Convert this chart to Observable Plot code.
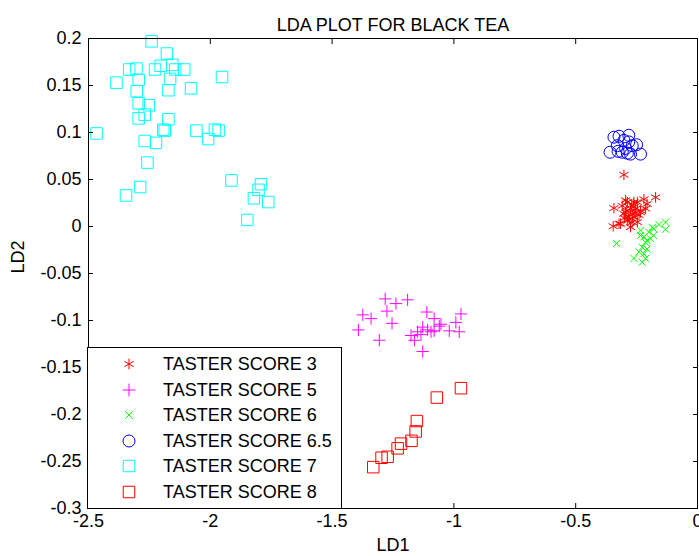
<!DOCTYPE html>
<html>
<head>
<meta charset="utf-8">
<script src="https://cdn.jsdelivr.net/npm/d3@7"></script>
<script src="https://cdn.jsdelivr.net/npm/@observablehq/plot@0.6"></script>
<style>
  html, body { margin: 0; padding: 0; background: #fff; }
  #wrap { position: relative; width: 699px; height: 556px; font-family: "Liberation Sans", Arial, sans-serif; }
  #legend { position: absolute; left: 87px; top: 347px; width: 253px; height: 160px; border: 1px solid #000; background: #fff; box-sizing: content-box; }
  .row { position: absolute; left: 0; height: 26px; display: flex; align-items: center; }
  .row svg { position: absolute; left: 29px; top: 1px; }
  .row span { position: absolute; left: 75px; font-size: 18px; white-space: nowrap; line-height: 26px; color: #000; }
</style>
</head>
<body>
<div id="wrap"></div>
<script>
// ---- data ----
const seriesNames = ["TASTER SCORE 3", "TASTER SCORE 5", "TASTER SCORE 6", "TASTER SCORE 6.5", "TASTER SCORE 7", "TASTER SCORE 8"];
const seriesColors = ["#ff0000", "#ff00ff", "#00ff00", "#0000ff", "#00ffff", "#ff0000"];
const seriesSymbols = ["asterisk", "plus", "times", "circle", "square", "square"];
const seriesR = [5, 4, 3.3, 6, 6.5, 6.5];
const legendR = [5, 4.2, 3.5, 6, 6.5, 6.5];

const score3X = [-0.302, -0.172, -0.343, -0.346, -0.295, -0.220, -0.207, -0.261, -0.275, -0.234, -0.302, -0.261, -0.288, -0.316, -0.247, -0.275, -0.288, -0.247, -0.268, -0.282, -0.309, -0.254, -0.234, -0.213, -0.295, -0.268, -0.322, -0.261, -0.240, -0.280, -0.290, -0.256, -0.270, -0.300];
const score3Y = [0.055, 0.031, 0.0195, 0.0003, 0.028, 0.029, 0.024, 0.026, 0.019, 0.017, 0.0135, 0.010, 0.006, 0.003, 0.0046, -0.0007, 0.026, 0.026, 0.0135, 0.010, 0.022, 0.019, 0.015, 0.019, 0.015, 0.0046, 0.003, 0.021, 0.012, 0.008, 0.017, 0.014, 0.023, 0.009];

const score5X = [-1.282, -1.238, -1.190, -1.374, -1.340, -1.275, -1.254, -1.392, -1.306, -1.111, -1.081, -0.971, -0.992, -1.053, -1.128, -1.108, -1.094, -1.149, -1.176, -1.162, -1.019, -0.978, -1.128, -1.081, -1.060, -1.135];
const score5Y = [-0.077, -0.082, -0.078, -0.094, -0.098, -0.090, -0.103, -0.110, -0.121, -0.091, -0.098, -0.093, -0.102, -0.104, -0.107, -0.110, -0.112, -0.112, -0.116, -0.121, -0.111, -0.112, -0.133, -0.111, -0.106, -0.115];

const score6X = [-0.332, -0.131, -0.131, -0.158, -0.180, -0.234, -0.200, -0.193, -0.213, -0.227, -0.207, -0.220, -0.261, -0.213, -0.227, -0.234, -0.180, -0.186, -0.207, -0.220, -0.240];
const score6Y = [-0.018, 0.0046, -0.003, 0.002, -0.0025, -0.004, -0.006, -0.013, -0.017, -0.022, -0.024, -0.029, -0.034, -0.034, -0.038, -0.0096, -0.0096, -0.001, -0.015, -0.011, -0.027];

const score65X = [-0.343, -0.322, -0.282, -0.302, -0.329, -0.268, -0.250, -0.359, -0.326, -0.295, -0.288, -0.234, -0.275, -0.309, -0.282];
const score65Y = [0.095, 0.096, 0.097, 0.0915, 0.086, 0.086, 0.087, 0.079, 0.080, 0.083, 0.078, 0.077, 0.077, 0.079, 0.090];

const score7X = [-2.241, -2.178, -2.333, -2.303, -2.227, -2.204, -2.156, -2.144, -2.107, -2.165, -2.385, -2.294, -2.302, -2.172, -2.079, -1.952, -2.294, -2.253, -2.269, -2.294, -2.172, -2.467, -2.193, -2.187, -2.057, -1.981, -1.966, -2.009, -2.269, -2.223, -2.258, -1.913, -2.288, -2.346, -1.792, -1.802, -1.821, -1.762, -1.848];
const score7Y = [0.197, 0.184, 0.167, 0.168, 0.167, 0.171, 0.172, 0.167, 0.167, 0.157, 0.153, 0.156, 0.144, 0.145, 0.147, 0.159, 0.131, 0.129, 0.119, 0.115, 0.114, 0.099, 0.103, 0.102, 0.102, 0.103, 0.102, 0.093, 0.091, 0.089, 0.068, 0.049, 0.042, 0.033, 0.045, 0.039, 0.030, 0.026, 0.007];

const score8X = [-0.971, -1.070, -1.152, -1.157, -1.174, -1.217, -1.231, -1.272, -1.297, -1.331];
const score8Y = [-0.172, -0.182, -0.207, -0.218, -0.228, -0.231, -0.236, -0.245, -0.246, -0.256];

const xTicks = [-2.5, -2, -1.5, -1, -0.5, 0];
const yTicks = [-0.3, -0.25, -0.2, -0.15, -0.1, -0.05, 0, 0.05, 0.1, 0.15, 0.2];
const titleText = "LDA PLOT FOR BLACK TEA";
const xLabel = "LD1";
const yLabel = "LD2";

// ---- build tidy table ----
const seriesX = [score3X, score5X, score6X, score65X, score7X, score8X];
const seriesY = [score3Y, score5Y, score6Y, score65Y, score7Y, score8Y];
const points = [];
seriesX.forEach((xs, i) => xs.forEach((x, j) => points.push({x, y: seriesY[i][j], s: i})));

const fmt = d => String(d);
const font = "Liberation Sans, Arial, sans-serif";

const chart = Plot.plot({
  width: 699,
  height: 556,
  marginLeft: 88,
  marginRight: 2,
  marginTop: 38,
  marginBottom: 48,
  style: {fontFamily: font, fontSize: "18px", background: "#fff", color: "#000"},
  x: {domain: [-2.5, 0], ticks: xTicks, tickFormat: fmt, label: null},
  y: {domain: [-0.3, 0.2], ticks: yTicks, tickFormat: fmt, label: null},
  marks: [
    ...seriesNames.map((name, i) => Plot.dot(points.filter(p => p.s === i), {
      x: "x", y: "y", symbol: () => seriesSymbols[i], r: seriesR[i],
      stroke: seriesColors[i], fill: "none", strokeWidth: 1
    })),
    Plot.frame({stroke: "#000", strokeWidth: 1}),
    Plot.axisX(xTicks, {anchor: "bottom", tickSize: -5, tickPadding: 11, tickFormat: fmt, fontSize: 18, label: null}),
    Plot.axisX(xTicks, {anchor: "top", tickSize: -5, fill: "none", label: null}),
    Plot.axisY(yTicks, {anchor: "left", tickSize: -5, tickPadding: 12, tickFormat: fmt, fontSize: 18, label: null}),
    Plot.axisY(yTicks, {anchor: "right", tickSize: -5, fill: "none", label: null}),
    Plot.text([titleText], {frameAnchor: "top", dy: -20, fontSize: 18, text: d => d}),
    Plot.text([xLabel], {frameAnchor: "bottom", dy: 42, fontSize: 18, text: d => d}),
    Plot.text([yLabel], {frameAnchor: "left", dx: -70, rotate: -90, fontSize: 18, text: d => d})
  ]
});

const wrap = document.getElementById("wrap");
wrap.appendChild(chart);

// ---- legend overlay ----
const legend = document.createElement("div");
legend.id = "legend";
const symMap = {asterisk: d3.symbolAsterisk, plus: d3.symbolPlus, times: d3.symbolTimes, circle: d3.symbolCircle, square: d3.symbolSquare};
seriesNames.forEach((name, i) => {
  const row = document.createElement("div");
  row.className = "row";
  row.style.top = (3 + i * 25.6) + "px";
  const svg = d3.create("svg").attr("width", 24).attr("height", 24);
  const r = legendR[i];
  svg.append("path")
    .attr("transform", "translate(12,12)")
    .attr("d", d3.symbol(symMap[seriesSymbols[i]], Math.PI * r * r)())
    .attr("fill", "none").attr("stroke", seriesColors[i]).attr("stroke-width", 1);
  row.appendChild(svg.node());
  const span = document.createElement("span");
  span.textContent = name;
  row.appendChild(span);
  legend.appendChild(row);
});
wrap.appendChild(legend);
</script>
</body>
</html>
